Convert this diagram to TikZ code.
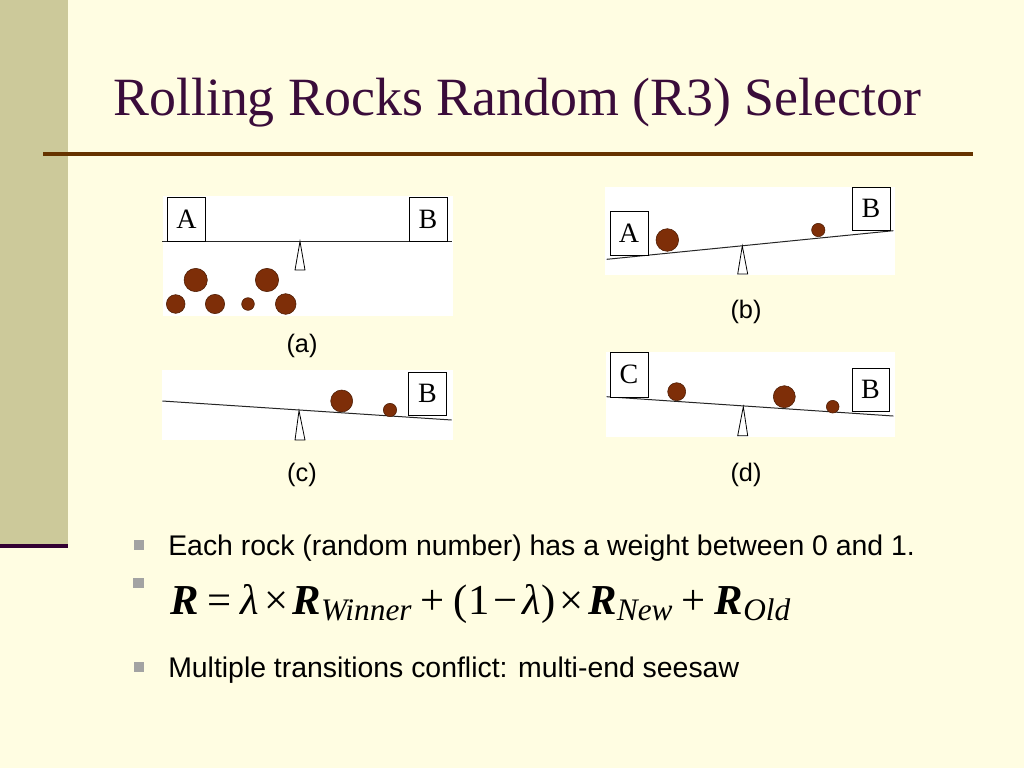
\documentclass[tikz,border=0pt]{standalone}
\usepackage{fontspec}
\setmainfont{Liberation Serif}
\newfontfamily\arialf{Liberation Sans}
\definecolor{bgc}{HTML}{FFFDE2}
\definecolor{bandc}{HTML}{CCC99A}
\definecolor{titlec}{HTML}{3A0C3A}
\definecolor{rulebrown}{HTML}{663300}
\definecolor{rulepurple}{HTML}{330033}
\definecolor{rockc}{HTML}{7E2E08}
\definecolor{rockd}{HTML}{4A1A02}
\definecolor{bulletc}{HTML}{A3A3A3}
\newcommand{\subtx}[1]{\lower4.5pt\hbox{\fontsize{23.5}{25}\selectfont\itshape #1}}
\newcommand{\RR}{\textbf{\textit{R}}}
\newcommand{\gl}[1]{\hskip 0pt plus #1fil\relax}
\begin{document}
\begin{tikzpicture}[x=0.75pt,y=-0.75pt,
  panel/.style={fill=white,draw=none},
  box/.style={draw=black,line width=0.6pt,fill=white,inner sep=0pt,minimum width=28.5pt,minimum height=33pt,font=\fontsize{21}{24}\selectfont},
  beam/.style={draw=black!85,line width=0.75pt},
  fulcrum/.style={draw=black,line width=0.6pt,fill=white},
  rock/.style={circle,fill=rockc,draw=rockd,line width=0.4pt,inner sep=0pt},
  lbl/.style={font=\arialf\fontsize{19}{22}\selectfont,inner sep=0pt},
  btxt/.style={anchor=base west,inner sep=0pt,font=\arialf\fontsize{21.3}{25}\selectfont},
  bsq/.style={fill=bulletc,draw=none,minimum size=8pt,inner sep=0pt}]
\useasboundingbox (0,0) rectangle (1024,768);
\fill[bgc] (0,0) rectangle (1024,768);
\fill[bandc] (0,0) rectangle (68,544);
\draw[rulepurple,line width=3.3pt] (0,546) -- (68,546);
\draw[rulebrown,line width=3pt] (43,153.7) -- (972.5,153.7);
\node[anchor=base west,inner sep=0pt,text=titlec,font=\fontsize{40.4}{48}\selectfont] (title) at (113,115) {Rolling Rocks Random (R3) Selector};

% ---------- panel (a)
\fill[panel] (163,196) rectangle (453,316);
\draw[beam] (162,241) -- (452,241);
\node[box] (aA) at (186.5,219) {A};
\node[box] (aB) at (428,219) {B};
\draw[fulcrum] (300,241.5) -- (305,270) -- (295,270) -- cycle;
\node[rock,minimum size=17.5pt] (ar1) at (195.7,280) {};
\node[rock,minimum size=17.5pt] (ar2) at (267,280) {};
\node[rock,minimum size=14pt] (ar3) at (175.7,304) {};
\node[rock,minimum size=14.5pt] (ar4) at (215,304) {};
\node[rock,minimum size=9.5pt] (ar5) at (248,304) {};
\node[rock,minimum size=15.5pt] (ar6) at (285.7,304) {};
\node[lbl] (la) at (302,346) {(a)};

% ---------- panel (b)
\fill[panel] (605,187) rectangle (895,275);
\draw[beam] (606.7,259.3) -- (893.3,230.7);
\node[box] (bA) at (629,233) {A};
\node[box,minimum height=32.3pt] (bB) at (871,208.5) {B};
\draw[fulcrum] (742.3,246) -- (747.7,274) -- (737.7,274) -- cycle;
\node[rock,minimum size=17pt] (br1) at (667.3,240) {};
\node[rock,minimum size=10pt] (br2) at (818.3,230) {};
\node[lbl] (lb) at (746,312) {(b)};

% ---------- panel (c)
\fill[panel] (162,370) rectangle (453,440);
\draw[beam] (162.3,401) -- (451.7,420);
\node[box,minimum height=32.3pt] (cB) at (427.5,393.5) {B};
\draw[fulcrum] (299,410.7) -- (305,440) -- (295,440) -- cycle;
\node[rock,minimum size=16.5pt] (cr1) at (341.7,401) {};
\node[rock,minimum size=10pt] (cr2) at (390,410) {};
\node[lbl] (lc) at (302,475) {(c)};

% ---------- panel (d)
\fill[panel] (606,352) rectangle (895,437);
\draw[beam] (606.7,396.7) -- (893.3,416);
\node[box,minimum height=33.8pt] (dC) at (629,374.5) {C};
\node[box,minimum height=32.3pt,minimum width=27.8pt] (dB) at (870.5,389.5) {B};
\draw[fulcrum] (743.3,406.7) -- (747.7,435.7) -- (737.7,435.7) -- cycle;
\node[rock,minimum size=13.5pt] (dr1) at (676.7,391.7) {};
\node[rock,minimum size=16.5pt] (dr2) at (784.3,396.7) {};
\node[rock,minimum size=9.5pt] (dr3) at (832.7,406.7) {};
\node[lbl] (ld) at (746,475) {(d)};

% ---------- bullets
\node[bsq] (b1) at (139,545) {};
\node[btxt] (t1) at (168,555) {Each rock (random number) has a weight between 0 and 1.};
\node[bsq] (b2) at (138.5,583) {};
\node[anchor=base west,inner sep=0pt,font=\fontsize{32}{36}\selectfont] (t2) at (170,614)
 {\hbox to 465pt{\RR\gl2=\gl2\textit{λ}\gl1×\gl1\RR\subtx{Winner}\gl2+\gl2(1\gl1−\gl1\textit{λ})\gl1×\gl1\RR\subtx{New}\gl2+\gl2\RR\subtx{Old}}};
\node[bsq] (b3) at (139,667) {};
\node[btxt] (t3) at (168,677) {Multiple transitions conflict: multi-end seesaw};
\end{tikzpicture}
\end{document}
